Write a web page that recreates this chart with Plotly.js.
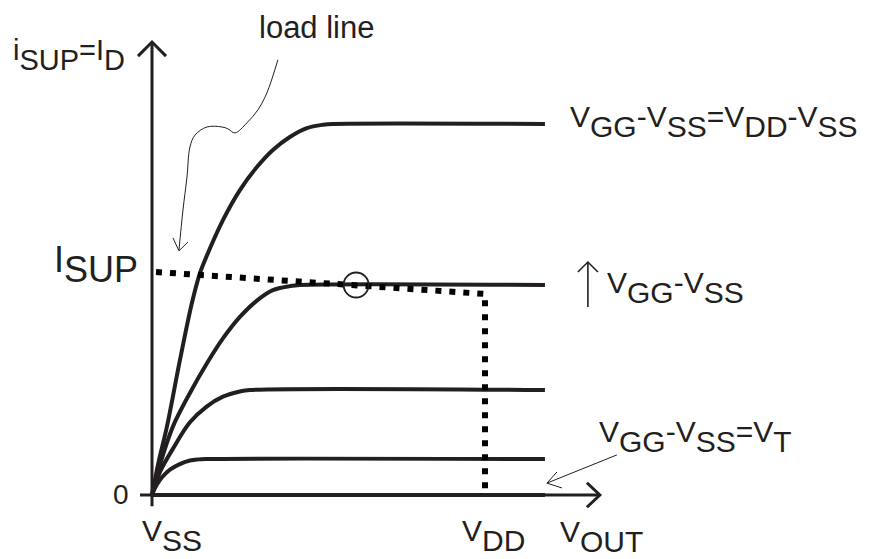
<!DOCTYPE html>
<html>
<head>
<meta charset="utf-8">
<script src="https://cdn.plot.ly/plotly-3.0.1.min.js"></script>
<style>html,body{margin:0;padding:0;background:#fff;}#chart{width:870px;height:559px;}</style>
</head>
<body>
<div id="chart"></div>
<script>
// ---- data (x: V_OUT in units where V_SS=0, V_DD=10; y: current, top saturation = 10)
const vSS = 0;
const vDD = 10;
const vEnd = 11.8;

// Output characteristic curves, highest V_GG first
const curve1X = [0, 0.2, 0.45, 0.84, 1.2, 1.44, 1.59, 2.13, 2.64, 3.15, 3.63, 4.14, 4.65, 5.14, 5.44, vEnd];
const curve1Y = [0, 0.9, 1.85, 3.64, 5.18, 5.98, 6.33, 7.41, 8.22, 8.84, 9.30, 9.65, 9.89, 9.98, 10, 10];
const curve2X = [0, 0.24, 0.63, 1.14, 1.65, 2.13, 2.64, 3.15, 3.63, 4.14, 4.44, vEnd];
const curve2Y = [0, 0.82, 1.85, 2.75, 3.55, 4.22, 4.80, 5.24, 5.52, 5.63, 5.66, 5.66];
const curve3X = [0, 0.24, 0.63, 1.14, 1.65, 2.13, 2.64, 2.94, vEnd];
const curve3Y = [0, 0.62, 1.25, 1.96, 2.39, 2.65, 2.79, 2.83, 2.83];
const curve4X = [0, 0.12, 0.3, 0.55, 0.85, 1.14, 1.4, 1.6, vEnd];
const curve4Y = [0, 0.24, 0.48, 0.69, 0.84, 0.93, 0.96, 0.97, 0.97];
const curveVTX = [0, vEnd];
const curveVTY = [0, 0];

// Load line: starts at I_SUP on the y axis, ends at V_DD, then drops to 0
const iSUP = 6.01;
const loadEndY = 5.42;
const loadX = [0.12, vDD, vDD];
const loadY = [iSUP, loadEndY, 0];

// Operating point
const qX = [6.13];
const qY = [5.66];

// Tick labels
const xTickLabels = ['V<span style="baseline-shift:-10px">SS</span>', 'V<span style="baseline-shift:-10px">DD</span>'];
const yTickLabels = ['0', 'I<span style="baseline-shift:-10px">SUP</span>'];

// ---- decorations (data units)
const sub = s => '<span style="baseline-shift:-10px">' + s + '</span>';
const ink = '#231f20';
const FONT = 'Liberation Sans, Arial, Helvetica, sans-serif';

const axisX = [0, 0, null, -0.36, 13.45];
const axisY = [-0.30, 12.21, null, 0, 0];
const axisHeadX = [-0.42, 0, 0.42, null, 13.06, 13.45, 13.06];
const axisHeadY = [11.83, 12.21, 11.83, null, 0.33, 0, -0.33];

const pointerX = [3.78, 3.45, 3.18, 2.85, 2.49, 2.28, 2.10, 1.65, 1.29, 1.14, 1.05, 0.93, 0.81];
const pointerY = [11.73, 10.84, 10.38, 10.03, 9.76, 9.87, 9.92, 9.92, 9.70, 9.38, 8.57, 7.68, 6.60];
const pointerHeadX = [0.63, 0.81, 1.08];
const pointerHeadY = [6.93, 6.58, 6.82];

const vtArrowX = [13.96, 11.86, null, 12.31, 11.86, 12.16];
const vtArrowY = [1.08, 0.32, null, 0.19, 0.32, 0.62];

const upArrowX = [13.09, 13.09, null, 12.79, 13.09, 13.39];
const upArrowY = [5.07, 6.28, null, 6.01, 6.28, 6.01];

const curveLine = {color: ink, width: 4, shape: 'spline', smoothing: 1};
const traces = [
  {x: axisX, y: axisY, mode: 'lines', line: {color: ink, width: 3}},
  {x: axisHeadX, y: axisHeadY, mode: 'lines', line: {color: ink, width: 3}},
  {x: curve1X, y: curve1Y, mode: 'lines', line: curveLine},
  {x: curve2X, y: curve2Y, mode: 'lines', line: curveLine},
  {x: curve3X, y: curve3Y, mode: 'lines', line: curveLine},
  {x: curve4X, y: curve4Y, mode: 'lines', line: curveLine},
  {x: curveVTX, y: curveVTY, mode: 'lines', line: {color: ink, width: 4}},
  {x: loadX, y: loadY, mode: 'lines', line: {color: '#000', width: 6, dash: '6px,8px'}},
  {x: qX, y: qY, mode: 'markers', marker: {symbol: 'circle-open', size: 25, color: ink, line: {color: ink, width: 1.8}}},
  {x: pointerX, y: pointerY, mode: 'lines', line: {color: ink, width: 1, shape: 'spline'}},
  {x: pointerHeadX, y: pointerHeadY, mode: 'lines', line: {color: ink, width: 1}},
  {x: vtArrowX, y: vtArrowY, mode: 'lines', line: {color: ink, width: 1}},
  {x: upArrowX, y: upArrowY, mode: 'lines', line: {color: ink, width: 1.6}}
];

function label(text, x, y, size, xanchor) {
  return {text: text, x: x, y: y, xref: 'x', yref: 'y', showarrow: false,
          xanchor: xanchor || 'left', yanchor: 'middle',
          font: {family: FONT, size: size, color: ink}};
}

const annotations = [
  label('load line', 3.15, 12.61, 31),
  label('i' + sub('SUP') + '=I' + sub('D'), -4.23, 11.86, 29),
  label(yTickLabels[1], -3.0, 6.20, 36),
  label(yTickLabels[0], -0.63, 0.02, 28, 'right'),
  label(xTickLabels[0], -0.36, -1.10, 30),
  label(xTickLabels[1], 9.25, -1.10, 30),
  label('V' + sub('OUT'), 12.19, -1.12, 30),
  label('V' + sub('GG') + '-V' + sub('SS') + '=V' + sub('DD') + '-V' + sub('SS'), 12.50, 10.07, 30),
  label('V' + sub('GG') + '-V' + sub('SS'), 13.60, 5.59, 30),
  label('V' + sub('GG') + '-V' + sub('SS') + '=V' + sub('T'), 13.36, 1.58, 30)
];

const layout = {
  width: 870, height: 559,
  margin: {l: 0, r: 0, t: 0, b: 0},
  paper_bgcolor: '#fff', plot_bgcolor: '#fff',
  showlegend: false,
  xaxis: {range: [-152/33.3, (870-152)/33.3], visible: false, fixedrange: true},
  yaxis: {range: [(495-559)/37.1, 495/37.1], visible: false, fixedrange: true},
  annotations: annotations
};

Plotly.newPlot('chart', traces, layout, {displayModeBar: false, staticPlot: true});
</script>
</body>
</html>
